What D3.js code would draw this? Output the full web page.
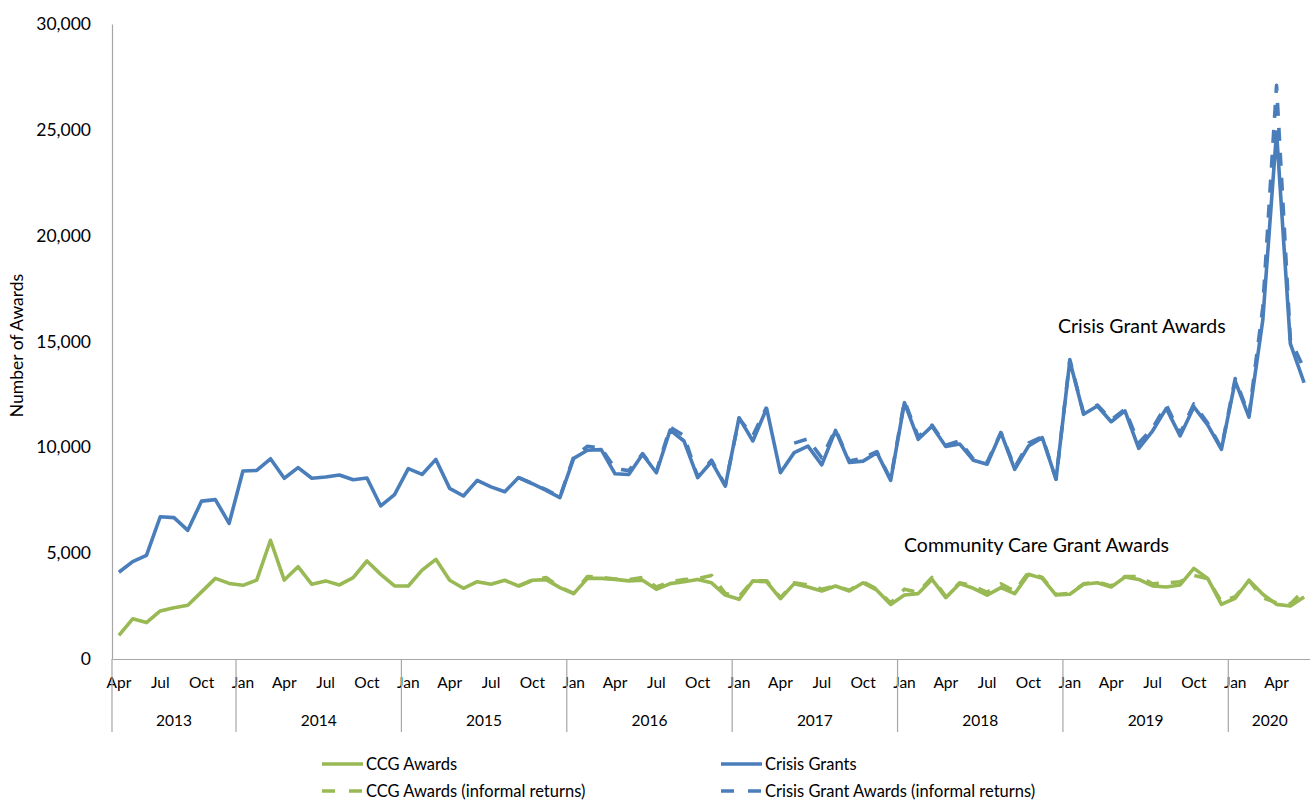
<!DOCTYPE html>
<html>
<head>
<meta charset="utf-8">
<script src="https://cdn.jsdelivr.net/npm/d3@7"></script>
<style>
  html, body { margin: 0; padding: 0; background: #fff; }
  svg { display: block; font-family: Lato, "Open Sans", sans-serif; }
</style>
</head>
<body>
<svg id="chart" width="1310" height="801"></svg>
<script>
// ---------------- DATA ----------------
const startYear = 2013;
const startMonth = 3; // April (0-based)
const monthNames = ["Jan","Feb","Mar","Apr","May","Jun","Jul","Aug","Sep","Oct","Nov","Dec"];
const monthTickLabels = ["Jan","Apr","Jul","Oct"];
const yearLabels = ["2013","2014","2015","2016","2017","2018","2019","2020"];
const yTicks = [0, 5000, 10000, 15000, 20000, 25000, 30000];

const crisisGrants = [
  4100, 4600, 4900, 6720, 6680, 6080, 7460, 7530, 6410,
  8880, 8910, 9460, 8540, 9040, 8540, 8600, 8690, 8470, 8550, 7230, 7770,
  8990, 8720, 9430, 8060, 7700, 8440, 8130, 7900, 8570, 8280, 7970, 7620,
  9480, 9860, 9890, 8750, 8720, 9670, 8800, 10820, 10300, 8570, 9320, 8170,
  11400, 10300, 11840, 8800, 9750, 10060, 9170, 10800, 9280, 9350, 9750, 8440,
  12110, 10380, 11000, 10040, 10160, 9390, 9200, 10690, 8960, 10060, 10460, 8490,
  14080, 11560, 11950, 11210, 11720, 9950, 10770, 11840, 10540, 11910, 11060, 9900,
  13130, 11430, 16000, 24900, 14900, 13050
];
const ccgAwards = [
  1120, 1900, 1720, 2270, 2420, 2540, 3170, 3810, 3570,
  3480, 3730, 5610, 3730, 4360, 3530, 3690, 3500, 3840, 4630, 4000, 3450,
  3450, 4200, 4710, 3720, 3340, 3650, 3530, 3720, 3450, 3720, 3750, 3370,
  3090, 3810, 3810, 3760, 3690, 3720, 3290, 3560, 3650, 3760, 3600, 3020,
  2820, 3690, 3650, 2850, 3560, 3400, 3210, 3450, 3210, 3600, 3250, 2580,
  3020, 3090, 3760, 2900, 3560, 3340, 3020, 3370, 3090, 4000, 3810, 3020,
  3060, 3530, 3600, 3400, 3870, 3760, 3450, 3400, 3500, 4280, 3810, 2580,
  2870, 3720, 3060, 2580, 2500, 2930
];
const crisisInformal = [
  null, null, null, null, null, null, null, null, null,
  null, null, null, null, null, null, null, null, null, null, null, null,
  null, null, null, null, null, null, null, null, 8570, 8300, 8000, 7650,
  9550, 10050, 9950, 9000, 8900, 9700, 8850, 10950, 10550, 8600, 9400, 8200,
  11350, 10550, 11900, null, 10200, 10400, 9500, 10850, 9350, 9500, 9800, 8480,
  12200, 10500, 11050, 10100, 10300, 9450, 9300, 10700, 9050, 10200, 10500, 8500,
  14150, 11600, 12000, 11300, 11800, 10200, 10900, 12000, 10650, 12050, 11150, 9950,
  13250, 11500, 16600, 27100, 15100, 13700
];
const ccgInformal = [
  null, null, null, null, null, null, null, null, null,
  null, null, null, null, null, null, null, null, null, null, null, null,
  null, null, null, null, null, null, null, null, 3450, 3720, 3850, 3400,
  3100, 3900, 3850, 3780, 3750, 3850, 3400, 3650, 3750, 3800, 3950, 3100,
  2950, 3700, 3700, 2900, 3600, 3500, 3300, 3450, 3250, 3650, 3300, 2650,
  3300, 3150, 3850, 2950, 3600, 3450, 3150, 3550, 3200, 4100, 3850, 3050,
  3100, 3550, 3650, 3450, 3900, 3900, 3550, 3600, 3650, 3950, 3800, 2700,
  2950, 3700, 2900, 2650, 2600, 3250
];

// categories (one per month)
const categories = crisisGrants.map((_, i) => {
  const m = (startMonth + i) % 12;
  const yr = startYear + Math.floor((startMonth + i) / 12);
  return { i, m, yr };
});

// ---------------- LAYOUT ----------------
const svg = d3.select("#chart");
const plotLeft = 112, plotRight = 1311, plotTop = 24, plotBottom = 659;
const blue = "#4A7EBB", green = "#98B954", axisCol = "#a6a6a6";

const x = d3.scaleBand().domain(categories.map(d => d.i)).range([plotLeft, plotRight]).padding(0);
const cx = i => x(i) + x.bandwidth() / 2;
const y = d3.scaleLinear().domain([0, 30000]).range([plotBottom, plotTop]);

// Y axis
const yAxis = svg.append("g").attr("transform", `translate(${plotLeft},0)`)
  .call(d3.axisLeft(y).tickValues(yTicks).tickSize(0).tickPadding(21).tickFormat(d3.format(",")));
yAxis.select(".domain").attr("stroke", axisCol).attr("stroke-width", 1.2);
yAxis.selectAll("text").attr("font-size", 17.5).attr("fill", "#000").attr("font-family", "Lato, sans-serif");

svg.append("text")
  .attr("transform", `translate(23,${(plotTop + plotBottom) / 2 + 4}) rotate(-90)`)
  .attr("text-anchor", "middle").attr("font-size", 17.5).attr("fill", "#000")
  .text("Number of Awards");

// X axis (months)
const xAxis = svg.append("g").attr("transform", `translate(0,${plotBottom})`)
  .call(d3.axisBottom(x)
    .tickValues(categories.filter(d => monthTickLabels.includes(monthNames[d.m])).map(d => d.i))
    .tickSize(0).tickPadding(18)
    .tickFormat(i => monthNames[categories[i].m]));
xAxis.select(".domain").attr("stroke", axisCol).attr("stroke-width", 1.2);
xAxis.selectAll("text").attr("font-size", 15.5).attr("fill", "#000").attr("font-family", "Lato, sans-serif");

// year groups
const groups = yearLabels.map(label => {
  const items = categories.filter(d => String(d.yr) === label);
  return { label, first: items[0].i, last: items[items.length - 1].i };
});
groups.forEach(g => {
  const x0 = x(g.first);
  const x1 = x(g.last) + x.bandwidth();
  svg.append("line").attr("x1", x0).attr("x2", x0).attr("y1", plotBottom).attr("y2", 732)
    .attr("stroke", axisCol).attr("stroke-width", 1.2);
  svg.append("text").attr("x", (x0 + x1) / 2).attr("y", 726)
    .attr("text-anchor", "middle").attr("font-size", 15.5).attr("fill", "#000")
    .text(g.label);
});

// ---------------- LINES ----------------
const line = d3.line().defined(d => d != null).x((d, i) => cx(i)).y(d => y(d));
const drawLine = (data, color, dash) => {
  svg.append("path").datum(data)
    .attr("d", line).attr("fill", "none").attr("stroke", color)
    .attr("stroke-width", 3.6).attr("stroke-linejoin", "round")
    .attr("stroke-dasharray", dash || null);
};
drawLine(ccgAwards, green);
drawLine(crisisGrants, blue);
drawLine(ccgInformal, green, "13,12");
drawLine(crisisInformal, blue, "13,12");

// annotations
svg.append("text").attr("x", 1058).attr("y", 333).attr("font-size", 19.5).attr("fill", "#000")
  .text("Crisis Grant Awards");
svg.append("text").attr("x", 904).attr("y", 552).attr("font-size", 19.5).attr("fill", "#000")
  .text("Community Care Grant Awards");

// ---------------- LEGEND ----------------
const legend = [
  { label: "CCG Awards", color: green, dash: null, lx: 322, ly: 764 },
  { label: "Crisis Grants", color: blue, dash: null, lx: 721, ly: 764 },
  { label: "CCG Awards (informal returns)", color: green, dash: "13,14", lx: 322, ly: 791 },
  { label: "Crisis Grant Awards (informal returns)", color: blue, dash: "13,14", lx: 721, ly: 791 }
];
legend.forEach(l => {
  svg.append("line").attr("x1", l.lx).attr("x2", l.lx + 41).attr("y1", l.ly).attr("y2", l.ly)
    .attr("stroke", l.color).attr("stroke-width", 3.6).attr("stroke-dasharray", l.dash);
  svg.append("text").attr("x", l.lx + 44).attr("y", l.ly + 5.5).attr("font-size", 16.5).attr("fill", "#000")
    .text(l.label);
});
</script>
</body>
</html>
